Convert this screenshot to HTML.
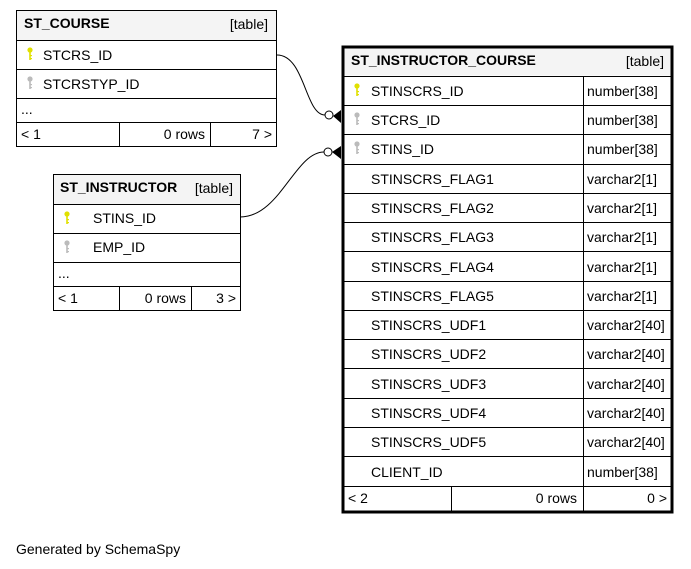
<!DOCTYPE html>
<html><head><style>body{margin:0;background:#fff}svg{display:block}text{font-family:"Liberation Sans",sans-serif;font-size:14px;fill:#000}</style></head><body>
<svg width="691" height="569" viewBox="0 0 691 569" xmlns="http://www.w3.org/2000/svg">
<defs>
<g id="ky"><circle cx="0" cy="0" r="2.6"/><rect x="-0.8" y="0" width="1.6" height="10"/><rect x="0" y="5" width="2" height="1.2"/><rect x="0" y="8" width="2" height="1.2"/></g>
</defs>
<!-- ST_COURSE -->
<rect x="16.5" y="10.5" width="260" height="136" fill="#fff" stroke="#000"/>
<rect x="17" y="11" width="259" height="29" fill="#f4f4f4"/>
<line x1="16" y1="40.5" x2="277" y2="40.5" stroke="#000"/>
<line x1="16" y1="69.5" x2="277" y2="69.5" stroke="#000"/>
<line x1="16" y1="98.5" x2="277" y2="98.5" stroke="#000"/>
<line x1="16" y1="122.5" x2="277" y2="122.5" stroke="#000"/>
<line x1="119.5" y1="122" x2="119.5" y2="146" stroke="#000"/>
<line x1="210.5" y1="122" x2="210.5" y2="146" stroke="#000"/>
<text x="24" y="28" font-weight="bold">ST_COURSE</text>
<text x="268" y="29" text-anchor="end">[table]</text>
<use href="#ky" x="30" y="50" fill="#e0e000"/>
<text x="43" y="60">STCRS_ID</text>
<use href="#ky" x="30" y="79" fill="#bbb"/>
<text x="43" y="89">STCRSTYP_ID</text>
<text x="21" y="114" font-size="11">...</text>
<text x="21" y="139">&lt; 1</text>
<text x="205" y="139" text-anchor="end">0 rows</text>
<text x="272" y="139" text-anchor="end">7 &gt;</text>
<!-- ST_INSTRUCTOR -->
<rect x="53.5" y="174.5" width="187" height="136" fill="#fff" stroke="#000"/>
<rect x="54" y="175" width="186" height="29" fill="#f4f4f4"/>
<line x1="53" y1="204.5" x2="241" y2="204.5" stroke="#000"/>
<line x1="53" y1="233.5" x2="241" y2="233.5" stroke="#000"/>
<line x1="53" y1="262.5" x2="241" y2="262.5" stroke="#000"/>
<line x1="53" y1="286.5" x2="241" y2="286.5" stroke="#000"/>
<line x1="119.5" y1="286" x2="119.5" y2="310" stroke="#000"/>
<line x1="191.5" y1="286" x2="191.5" y2="310" stroke="#000"/>
<text x="60" y="192" font-weight="bold">ST_INSTRUCTOR</text>
<text x="233" y="193" text-anchor="end">[table]</text>
<use href="#ky" x="67" y="214" fill="#e0e000"/>
<text x="93" y="223">STINS_ID</text>
<use href="#ky" x="67" y="243" fill="#bbb"/>
<text x="93" y="252">EMP_ID</text>
<text x="58" y="278" font-size="11">...</text>
<text x="58" y="303">&lt; 1</text>
<text x="186" y="303" text-anchor="end">0 rows</text>
<text x="236" y="303" text-anchor="end">3 &gt;</text>
<!-- connectors -->
<path d="M277,55 C305,55 305,115 325,115" fill="none" stroke="#000"/>
<circle cx="329" cy="115" r="4" fill="#fff" stroke="#000"/>
<path d="M333,116 L341,110 L341,123 Z" fill="#000"/>
<path d="M240,217 C280,217 295,152 324,152" fill="none" stroke="#000"/>
<circle cx="328" cy="152" r="4" fill="#fff" stroke="#000"/>
<path d="M332,152 L341,146 L341,159 Z" fill="#000"/>
<!-- ST_INSTRUCTOR_COURSE -->
<rect x="343" y="47" width="329" height="465" fill="#fff" stroke="#000" stroke-width="3"/>
<rect x="344.5" y="48.5" width="326" height="27" fill="#f4f4f4"/>
<line x1="343" y1="76.5" x2="672" y2="76.5" stroke="#000"/>
<g stroke="#000">
<line x1="343" y1="105.5" x2="672" y2="105.5"/><line x1="343" y1="134.5" x2="672" y2="134.5"/><line x1="343" y1="164.5" x2="672" y2="164.5"/><line x1="343" y1="193.5" x2="672" y2="193.5"/><line x1="343" y1="222.5" x2="672" y2="222.5"/><line x1="343" y1="251.5" x2="672" y2="251.5"/><line x1="343" y1="281.5" x2="672" y2="281.5"/><line x1="343" y1="310.5" x2="672" y2="310.5"/><line x1="343" y1="339.5" x2="672" y2="339.5"/><line x1="343" y1="368.5" x2="672" y2="368.5"/><line x1="343" y1="398.5" x2="672" y2="398.5"/><line x1="343" y1="427.5" x2="672" y2="427.5"/><line x1="343" y1="456.5" x2="672" y2="456.5"/><line x1="343" y1="486.5" x2="672" y2="486.5"/>
<line x1="583.5" y1="76" x2="583.5" y2="512"/><line x1="451.5" y1="486" x2="451.5" y2="512"/>
</g>
<text x="351" y="65" font-weight="bold">ST_INSTRUCTOR_COURSE</text>
<text x="664" y="66" text-anchor="end">[table]</text>
<use href="#ky" x="357" y="86" fill="#e0e000"/>
<use href="#ky" x="357" y="115" fill="#bbb"/>
<use href="#ky" x="357" y="144" fill="#bbb"/>
<g>
<text x="371" y="96">STINSCRS_ID</text><text x="587" y="96">number[38]</text>
<text x="371" y="125">STCRS_ID</text><text x="587" y="125">number[38]</text>
<text x="371" y="154">STINS_ID</text><text x="587" y="154">number[38]</text>
<text x="371" y="184">STINSCRS_FLAG1</text><text x="587" y="184">varchar2[1]</text>
<text x="371" y="213">STINSCRS_FLAG2</text><text x="587" y="213">varchar2[1]</text>
<text x="371" y="242">STINSCRS_FLAG3</text><text x="587" y="242">varchar2[1]</text>
<text x="371" y="272">STINSCRS_FLAG4</text><text x="587" y="272">varchar2[1]</text>
<text x="371" y="301">STINSCRS_FLAG5</text><text x="587" y="301">varchar2[1]</text>
<text x="371" y="330">STINSCRS_UDF1</text><text x="587" y="330">varchar2[40]</text>
<text x="371" y="359">STINSCRS_UDF2</text><text x="587" y="359">varchar2[40]</text>
<text x="371" y="389">STINSCRS_UDF3</text><text x="587" y="389">varchar2[40]</text>
<text x="371" y="418">STINSCRS_UDF4</text><text x="587" y="418">varchar2[40]</text>
<text x="371" y="447">STINSCRS_UDF5</text><text x="587" y="447">varchar2[40]</text>
<text x="371" y="477">CLIENT_ID</text><text x="587" y="477">number[38]</text>
</g>
<text x="348" y="503">&lt; 2</text>
<text x="577" y="503" text-anchor="end">0 rows</text>
<text x="667" y="503" text-anchor="end">0 &gt;</text>
<text x="16" y="554">Generated by SchemaSpy</text>
</svg>
</body></html>
